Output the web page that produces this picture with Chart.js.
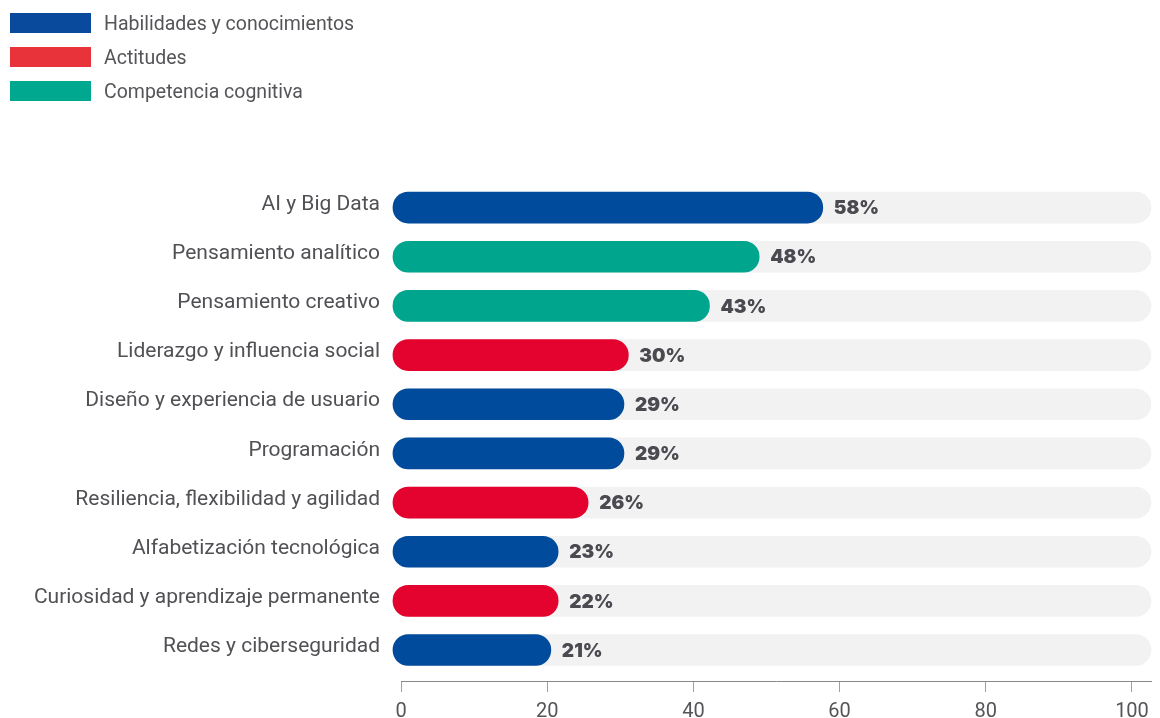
<!DOCTYPE html>
<html>
<head>
<meta charset="utf-8">
<script src="https://cdn.jsdelivr.net/npm/chart.js@4"></script>
<style>
  html, body { margin: 0; padding: 0; background: #ffffff; }
  #wrap { position: relative; width: 1160px; height: 718px; }
  #chart { position: absolute; left: 0; top: 0; }
  #legend { position: absolute; left: 10px; top: 13px; font-family: Roboto, sans-serif; font-size: 19.5px; color: #555559; }
  .item { display: flex; align-items: center; height: 20px; margin-bottom: 14px; }
  .box { width: 81px; height: 20px; margin-right: 13px; }
</style>
</head>
<body>
<div id="wrap">
  <canvas id="chart" width="1160" height="718"></canvas>
  <div id="legend"></div>
</div>
<script>
const categories = [
  "AI y Big Data",
  "Pensamiento analítico",
  "Pensamiento creativo",
  "Liderazgo y influencia social",
  "Diseño y experiencia de usuario",
  "Programación",
  "Resiliencia, flexibilidad y agilidad",
  "Alfabetización tecnológica",
  "Curiosidad y aprendizaje permanente",
  "Redes y ciberseguridad"
];
// printed percentages
const values = [58, 48, 43, 30, 29, 29, 26, 23, 22, 21];
const barLengths = [57.7, 49.0, 42.2, 31.1, 30.5, 30.5, 25.6, 21.5, 21.5, 20.5];
const groupOf = [0, 2, 2, 1, 0, 0, 1, 0, 1, 0];
const groupNames = ["Habilidades y conocimientos", "Actitudes", "Competencia cognitiva"];
const groupBarColors = ["#004b9b", "#e4032e", "#00a58e"];
const groupLegendColors = ["#0a4a9c", "#e8333a", "#00a88f"];
const xTicks = [0, 20, 40, 60, 80, 100];
const trackStart = -1.1;
const trackEnd = 102.6;

// HTML legend
const legendEl = document.getElementById('legend');
groupNames.forEach((name, i) => {
  const it = document.createElement('div');
  it.className = 'item';
  const b = document.createElement('div');
  b.className = 'box';
  b.style.background = groupLegendColors[i];
  const t = document.createElement('span');
  t.textContent = name;
  it.appendChild(b); it.appendChild(t);
  legendEl.appendChild(it);
});

const valueLabels = {
  id: 'valueLabels',
  afterDatasetsDraw(chart) {
    const meta = chart.getDatasetMeta(1);
    const ctx = chart.ctx;
    ctx.save();
    ctx.font = '900 19px Inter, Roboto, sans-serif';
    ctx.fillStyle = '#4a4a50';
    ctx.textAlign = 'left';
    ctx.textBaseline = 'middle';
    meta.data.forEach((el, i) => {
      ctx.fillText(values[i] + '%', el.x + 11, el.y + 1);
    });
    ctx.restore();
  }
};

new Chart(document.getElementById('chart'), {
  type: 'bar',
  data: {
    datasets: [
      {
        label: 'track',
        data: categories.map((c, i) => ({ x: [trackStart, trackEnd], y: i })),
        backgroundColor: '#f2f2f2',
        borderRadius: 16,
        borderSkipped: false,
        barThickness: 31,
        grouped: false,
        order: 2,
        clip: false
      },
      {
        label: 'valor',
        data: barLengths.map((v, i) => ({ x: [trackStart, v], y: i })),
        backgroundColor: groupOf.map(g => groupBarColors[g]),
        borderRadius: 16,
        borderSkipped: false,
        barThickness: 31,
        grouped: false,
        order: 1,
        clip: false
      }
    ]
  },
  options: {
    indexAxis: 'y',
    responsive: false,
    animation: false,
    layout: { padding: { top: 183, right: 9, left: 0, bottom: 0 } },
    plugins: { legend: { display: false }, tooltip: { enabled: false } },
    scales: {
      y: {
        type: 'linear',
        reverse: true,
        offset: false,
        min: -0.5,
        max: 9.63,
        afterBuildTicks: (scale) => { scale.ticks = categories.map((c, i) => ({ value: i })); },
        afterFit: (scale) => { scale.width = 401; },
        ticks: {
          callback: (v) => categories[v],
          font: { family: 'Roboto', size: 21 },
          color: '#505055',
          padding: 21,
          labelOffset: -3
        },
        grid: { display: false, drawTicks: false },
        border: { display: false }
      },
      x: {
        type: 'linear',
        min: 0,
        max: trackEnd,
        afterBuildTicks: (scale) => { scale.ticks = xTicks.map(v => ({ value: v })); },
        afterFit: (scale) => { scale.height = 37; },
        ticks: {
          font: { family: 'Roboto', size: 20 },
          color: '#555559',
          padding: 8
        },
        grid: { drawOnChartArea: false, tickLength: 11, color: '#a0a0a0', lineWidth: 1 },
        border: { display: true, color: '#8a8a8a', width: 1 }
      }
    }
  },
  plugins: [valueLabels]
});
</script>
</body>
</html>
